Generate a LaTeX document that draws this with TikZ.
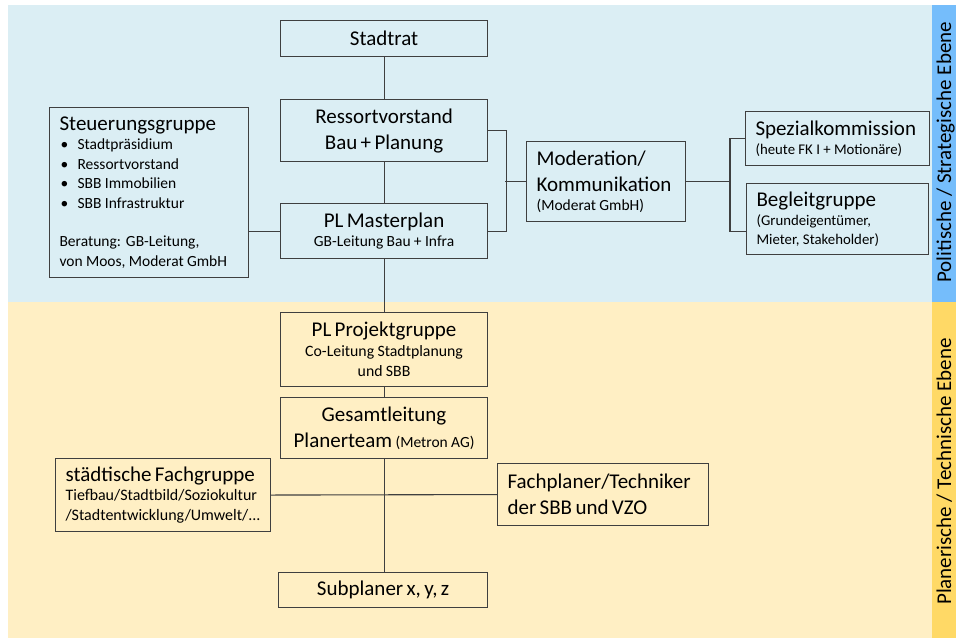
\documentclass[tikz,border=0pt]{standalone}
\usepackage{fontspec}
\setmainfont{Carlito}
\usetikzlibrary{positioning}

\definecolor{bgblue}{HTML}{DBEEF4}
\definecolor{bgyellow}{HTML}{FFEFC4}
\definecolor{stripblue}{HTML}{75BDFB}
\definecolor{stripyellow}{HTML}{FFD966}
\definecolor{boxline}{HTML}{3F3F3F}

\newcommand{\titlef}{\fontsize{21}{26}\selectfont}
\newcommand{\subf}{\fontsize{15.5}{19.5}\selectfont}
\newcommand{\notef}{\fontsize{14.8}{19}\selectfont}
\newcommand{\bul}{\makebox[18pt][l]{\hspace{1pt}\textbullet}}

\tikzset{
  orgbox/.style={draw=boxline, line width=1.1pt, rectangle, anchor=north west,
    inner xsep=5pt, inner ysep=0pt, align=center},
  leftbox/.style={orgbox, align=left, inner xsep=10pt},
  link/.style={draw=boxline, line width=1.1pt},
  level/.style={rotate=90, anchor=base west, inner sep=0pt, font=\titlef},
}

\begin{document}
\begin{tikzpicture}[x=1pt, y=-1pt]

        \useasboundingbox (0,0) rectangle (956,638);

        % Levels
        \fill[bgblue] (8,5) rectangle (932,302);
        \fill[bgyellow] (8,302) rectangle (932,638);
        \fill[stripblue] (932,5) rectangle (956,302);
        \fill[stripyellow] (932,302) rectangle (956,638);
        \node[level] (polit) at (951,283) {Politische / Strategische Ebene};
        \node[level] (plan) at (951,605) {Planerische / Technische Ebene};

        % Political level
        \node[orgbox, text width=197pt, minimum height=36pt] (stadtrat) at (280,20)
            {\titlef Stadtrat\par};
        \node[orgbox, text width=197pt, minimum height=62pt] (ressort) at (280,99)
            {\titlef Ressortvorstand\\ Bau + Planung\par};
        \node[orgbox, text width=197pt, minimum height=55pt] (masterplan) at (280,203)
            {{\titlef PL Masterplan\par}{\subf GB-Leitung Bau + Infra\par}};
        \node[leftbox, text width=179pt, minimum height=170pt] (steuer) at (49,107)
            {{\titlef Steuerungsgruppe\par}
             {\subf \bul Stadtpräsidium\\ \bul Ressortvorstand\\ \bul SBB Immobilien\\ \bul SBB Infrastruktur\par}
             \vspace{19pt}
             {\subf Beratung: GB-Leitung,\\ von Moos, Moderat GmbH\par}};
        \node[leftbox, text width=139pt, minimum height=80pt] (moderation) at (526,141)
            {{\titlef Moderation/\\ Kommunikation\par}{\subf (Moderat GmbH)\par}};
        \node[leftbox, text width=164pt, minimum height=54pt] (spezial) at (745,111)
            {{\titlef Spezialkommission\par}{\notef (heute FK I + Motionäre)\par}};
        \node[leftbox, text width=162pt, minimum height=71pt] (begleit) at (746,183)
            {{\titlef Begleitgruppe\par}{\notef (Grundeigentümer,\\ Mieter, Stakeholder)\par}};

        % Planning level
        \node[orgbox, text width=197pt, minimum height=74pt] (projekt) at (280,312)
            {{\titlef PL Projektgruppe\par}{\fontsize{15.8}{20}\selectfont Co-Leitung Stadtplanung\\ und SBB\par}};
        \node[orgbox, text width=197pt, minimum height=61pt] (gesamt) at (280,397)
            {\titlef Gesamtleitung\\ Planerteam {\subf (Metron AG)}\par};
        \node[leftbox, text width=195pt, minimum height=73pt] (fach) at (55,458)
            {{\titlef städtische Fachgruppe\par}{\fontsize{16}{19.5}\selectfont Tiefbau/Stadtbild/Soziokultur\\ /Stadtentwicklung/Umwelt/...\par}};
        \node[leftbox, text width=191pt, minimum height=62pt] (fachplaner) at (497,463)
            {\titlef Fachplaner/Techniker\\ der SBB und VZO\par};
        \node[orgbox, text width=199pt, minimum height=35pt] (subplaner) at (278,572)
            {\titlef Subplaner x, y, z\par};

        % Links
        \draw[link] (stadtrat) -- (ressort);
        \draw[link] (ressort) -- (masterplan);
        \draw[link] (masterplan) -- (projekt);
        \draw[link] (projekt) -- (gesamt);
        \draw[link] (gesamt.south) -- (gesamt.south |- subplaner.north);
        \draw[link] (masterplan.west) -- (masterplan.west -| steuer.east);
        \draw[link] (ressort.east) -- ++(18,0) |- (masterplan.east);
        \draw[link] (moderation.west) -- ++(-21,0);
        \draw[link] (moderation.east) -- ++(45,0);
        \draw[link] (spezial.west) -- ++(-15,0) |- ([yshift=-12.5pt]begleit.west);
        \draw[link] (fach.east) -- (fachplaner.west);

\end{tikzpicture}
\end{document}
